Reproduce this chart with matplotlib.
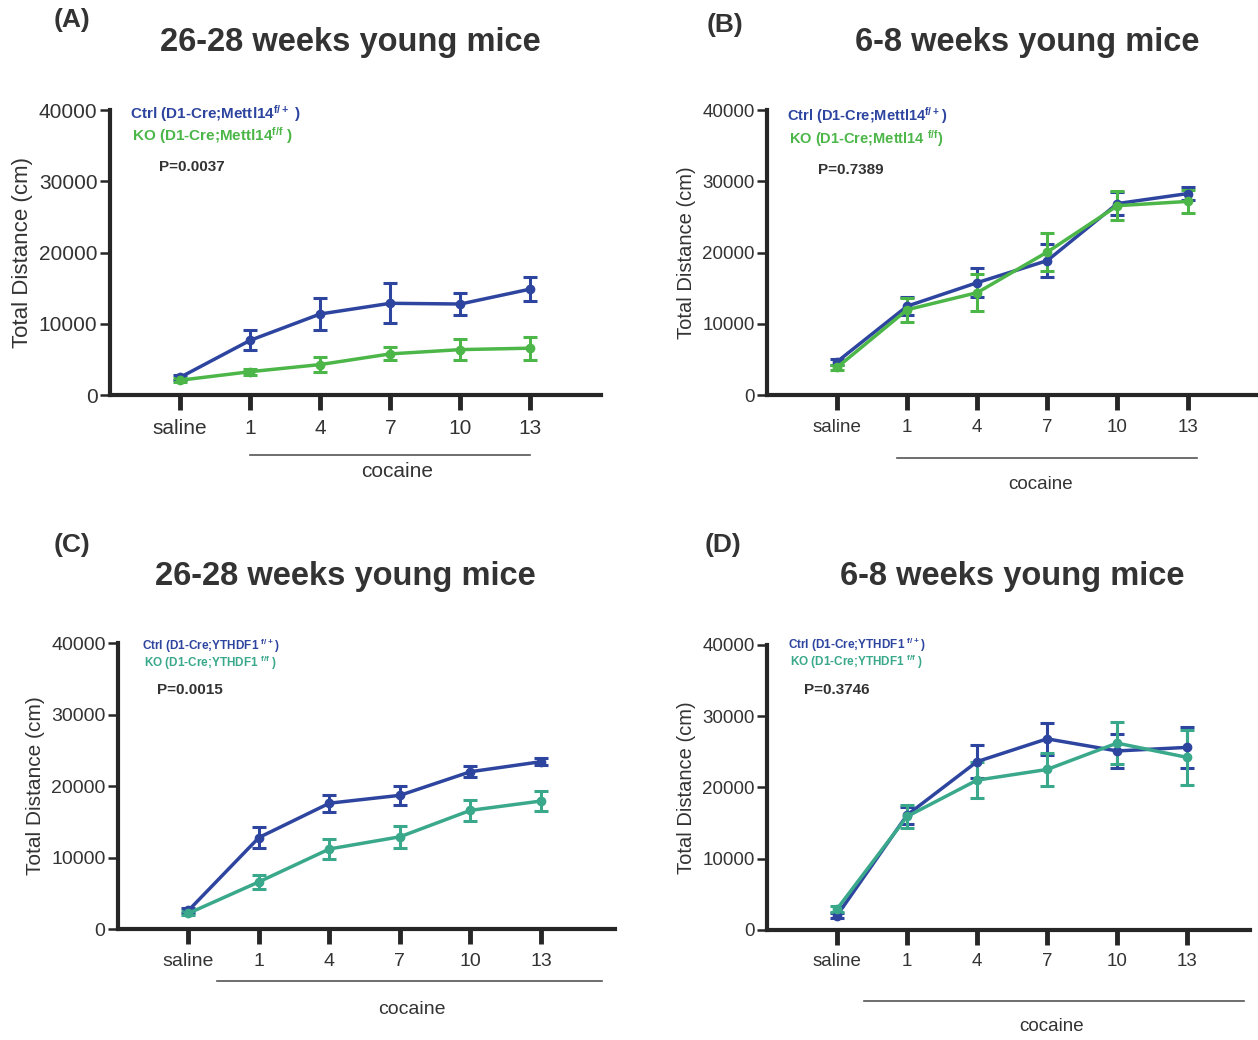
import matplotlib
matplotlib.use("Agg")
import matplotlib.pyplot as plt

plt.rcParams['font.family'] = ['Liberation Sans', 'DejaVu Sans']
plt.rcParams['mathtext.fontset'] = 'custom'
plt.rcParams['mathtext.rm'] = 'Liberation Sans:bold'
plt.rcParams['mathtext.bf'] = 'Liberation Sans:bold'
plt.rcParams['mathtext.default'] = 'bf'

days = ["saline", "1", "4", "7", "10", "13"]

# (A) Mettl14, 26-28 weeks
a_ctrl = [2500, 7700, 11400, 12900, 12800, 14900]
a_ctrl_err = [300, 1400, 2200, 2800, 1550, 1700]
a_ko = [2100, 3300, 4300, 5800, 6400, 6600]
a_ko_err = [300, 400, 1000, 900, 1500, 1600]

# (B) Mettl14, 6-8 weeks
b_ctrl = [4700, 12500, 15800, 18900, 26900, 28300]
b_ctrl_err = [400, 1300, 2000, 2300, 1600, 900]
b_ko = [3900, 12000, 14400, 20100, 26600, 27200]
b_ko_err = [400, 1700, 2600, 2600, 2000, 1600]

# (C) YTHDF1, 26-28 weeks
c_ctrl = [2600, 12800, 17600, 18700, 22000, 23400]
c_ctrl_err = [400, 1500, 1200, 1300, 800, 500]
c_ko = [2200, 6600, 11200, 12900, 16600, 17900]
c_ko_err = [300, 1000, 1400, 1500, 1500, 1400]

# (D) YTHDF1, 6-8 weeks
d_ctrl = [2000, 16100, 23600, 26800, 25100, 25600]
d_ctrl_err = [300, 1200, 2300, 2200, 2400, 2900]
d_ko = [2900, 15900, 21000, 22500, 26200, 24200]
d_ko_err = [400, 1600, 2500, 2300, 2900, 3900]

BLUE = "#2e45a0"
GREEN = "#4cb648"
TEAL = "#3aa88a"
DARK = "#262626"

fig = plt.figure(figsize=(12.58, 10.40), dpi=100)
fig.patch.set_facecolor("white")


def panel(rect, ctrl, ctrl_err, ko, ko_err, ko_color, ctrl_lbl, ko_lbl, pval, fs,
          legend_fs, leg_pos, p_pos, cocaine_line, cocaine_text, xmax):
    ax = fig.add_axes(rect)
    x = list(range(len(days)))
    ax.errorbar(x, ctrl, yerr=ctrl_err, color=BLUE, lw=2.5, marker="o", ms=6,
                capsize=5, capthick=2.2, elinewidth=2.2, zorder=3)
    ax.errorbar(x, ko, yerr=ko_err, color=ko_color, lw=2.5, marker="o", ms=6,
                capsize=5, capthick=2.2, elinewidth=2.2, zorder=3)
    ax.set_xlim(-1, xmax)
    ax.set_ylim(0, 40000)
    ax.set_yticks([0, 10000, 20000, 30000, 40000])
    ax.set_xticks(x)
    ax.set_xticklabels(days)
    for s in ["top", "right"]:
        ax.spines[s].set_visible(False)
    for s in ["left", "bottom"]:
        ax.spines[s].set_linewidth(3)
        ax.spines[s].set_color(DARK)
    ax.tick_params(axis="x", length=11, width=3.5, color=DARK, labelsize=fs,
                   pad=6, labelcolor="#333333")
    ax.tick_params(axis="y", length=7, width=1.8, color=DARK, labelsize=fs,
                   pad=2, labelcolor="#333333")
    ax.set_ylabel("Total Distance (cm)", fontsize=fs + 1, color="#333333", labelpad=4)
    ax.set_facecolor("none")

    ax.text(leg_pos[0], leg_pos[1], ctrl_lbl, transform=ax.transAxes, color=BLUE,
            fontsize=legend_fs, fontweight="bold", va="center", ha="left")
    ax.text(leg_pos[0] + 0.005, leg_pos[2], ko_lbl, transform=ax.transAxes,
            color=ko_color, fontsize=legend_fs, fontweight="bold", va="center", ha="left")
    ax.text(p_pos[0], p_pos[1], "P=" + pval, transform=ax.transAxes,
            color="#333333", fontsize=11, fontweight="bold", va="center", ha="left")

    trans = ax.get_xaxis_transform()
    ax.plot([cocaine_line[0], cocaine_line[1]], [cocaine_line[2]] * 2, color="#555555",
            lw=1.2, transform=trans, clip_on=False)
    ax.text(cocaine_text[0], cocaine_text[1], "cocaine", transform=trans,
            fontsize=fs, color="#333333", ha="center", va="center")
    return ax


panel([0.0874, 0.620, 0.390, 0.274], a_ctrl, a_ctrl_err, a_ko, a_ko_err, GREEN,
      r"Ctrl (D1-Cre;Mettl14$^{\mathbf{f/+}}$ )", r"KO (D1-Cre;Mettl14$^{\mathbf{f/f}}$ )",
      "0.0037", 15, 11, (0.04, 0.99, 0.91), (0.10, 0.80),
      (1, 5, -0.21), (3.1, -0.267), 6.0)
panel([0.6097, 0.620, 0.390, 0.274], b_ctrl, b_ctrl_err, b_ko, b_ko_err, GREEN,
      r"Ctrl (D1-Cre;Mettl14$^{\mathbf{f/+}}$)", r"KO (D1-Cre;Mettl14 $^{\mathbf{f/f}}$)",
      "0.7389", 13.5, 10.5, (0.04, 0.982, 0.90), (0.104, 0.79),
      (0.86, 5.14, -0.221), (2.9, -0.312), 6.0)
panel([0.0938, 0.1067, 0.395, 0.275], c_ctrl, c_ctrl_err, c_ko, c_ko_err, TEAL,
      r"Ctrl (D1-Cre;YTHDF1 $^{\mathbf{f/+}}$)", r"KO (D1-Cre;YTHDF1 $^{\mathbf{f/f}}$ )",
      "0.0015", 14, 8.5, (0.048, 0.99, 0.93), (0.078, 0.836),
      (0.4, 5.86, -0.182), (3.17, -0.283), 6.05)
panel([0.6097, 0.106, 0.384, 0.274], d_ctrl, d_ctrl_err, d_ko, d_ko_err, TEAL,
      r"Ctrl (D1-Cre;YTHDF1 $^{\mathbf{f/+}}$)", r"KO (D1-Cre;YTHDF1 $^{\mathbf{f/f}}$ )",
      "0.3746", 13.5, 8.5, (0.043, 1.0, 0.94), (0.077, 0.84),
      (0.39, 5.81, -0.249), (3.07, -0.34), 5.9)

titles = [("26-28 weeks young mice", 350, 42), ("6-8 weeks young mice", 1027, 42),
          ("26-28 weeks young mice", 345, 577), ("6-8 weeks young mice", 1012, 577)]
for t, px, py in titles:
    fig.text(px / 1258, 1 - py / 1040, t, fontsize=23.5, fontweight="bold",
             color="#333333", ha="center", va="center")

labels = [("(A)", 72, 20), ("(B)", 725, 25), ("(C)", 72, 545), ("(D)", 723, 545)]
for t, px, py in labels:
    fig.text(px / 1258, 1 - py / 1040, t, fontsize=19, fontweight="bold",
             color="#333333", ha="center", va="center")

fig.savefig("out.png", dpi=100)
